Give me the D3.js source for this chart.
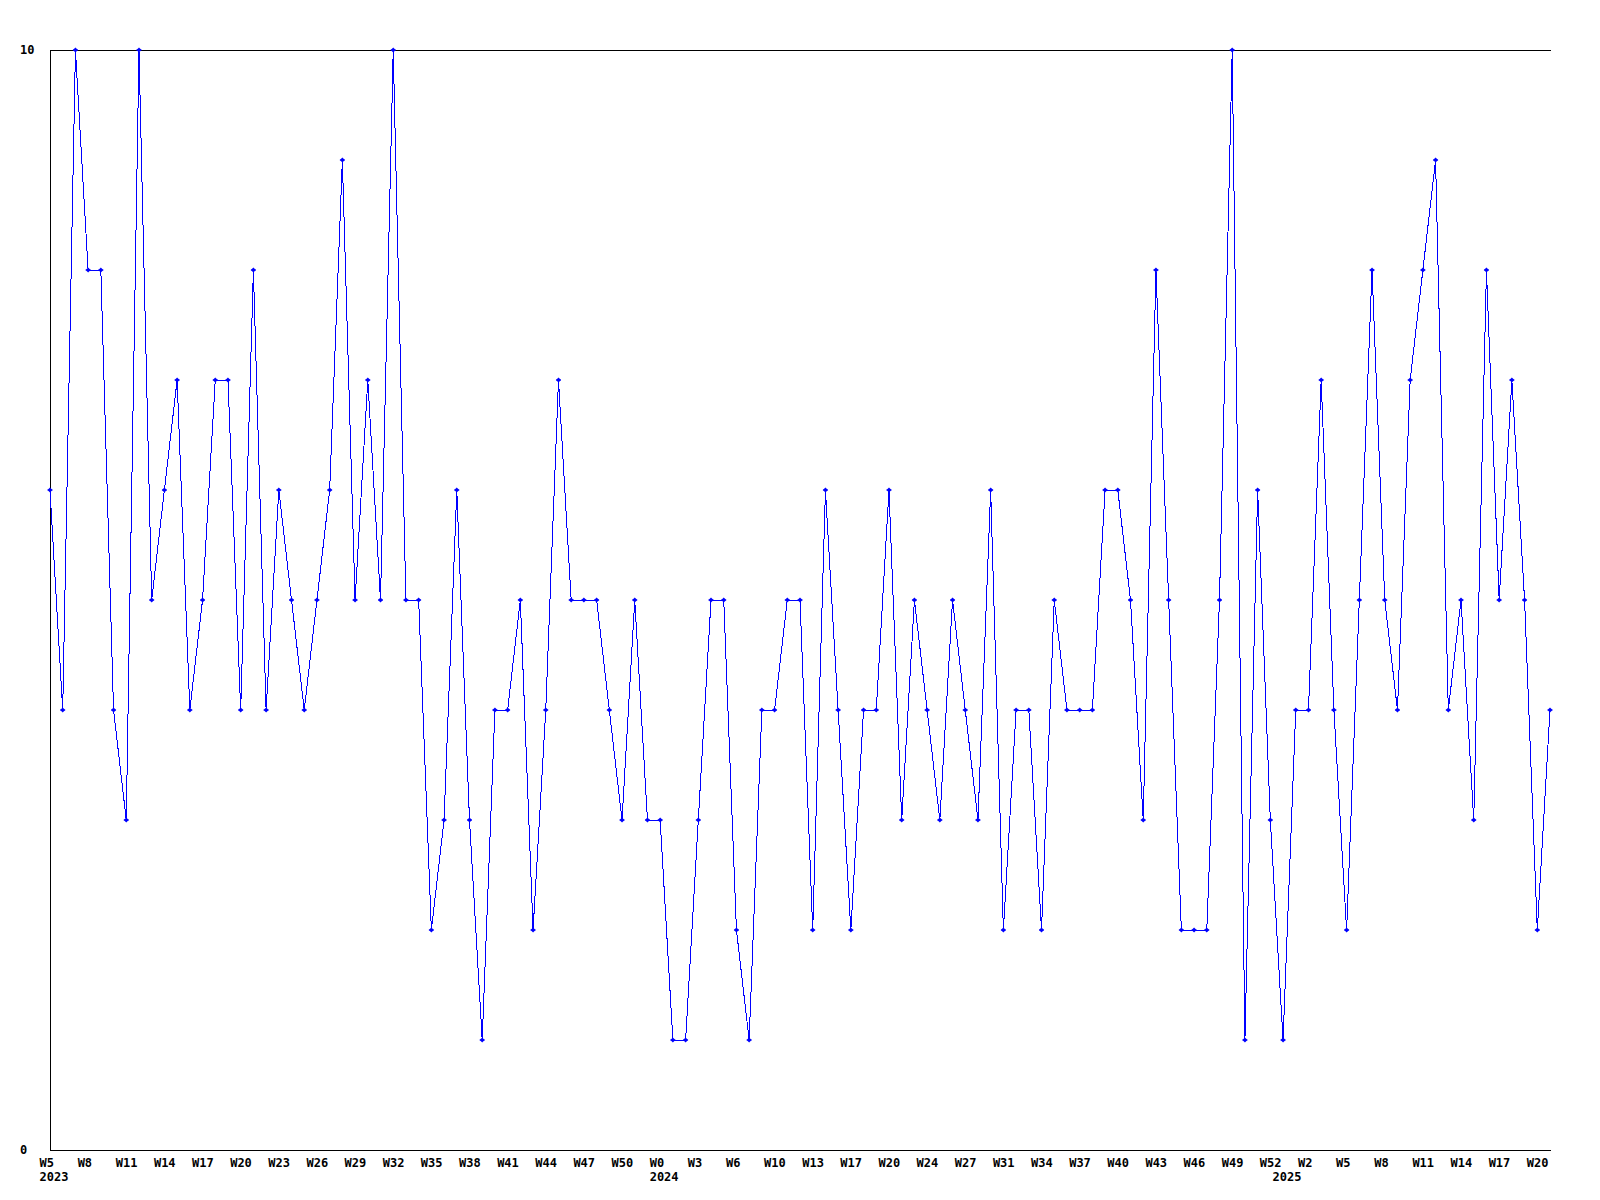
<!DOCTYPE html>
<html>
<head>
<meta charset="utf-8">
<script src="https://cdn.jsdelivr.net/npm/d3@7"></script>
<style>
  html, body { margin: 0; padding: 0; background: #fff; }
  svg { display: block; }
  text { font-family: "DejaVu Sans Mono", "Liberation Mono", monospace; font-weight: bold; font-size: 12px; fill: #000; }
</style>
</head>
<body>
<svg id="chart" width="1600" height="1200"></svg>
<script>
// Weekly values, 2023 W5 .. 2025 W21
const values = [
  6, 4, 10, 8, 8, 4, 3, 10, 5, 6,
  7, 4, 5, 7, 7, 4, 8, 4, 6, 5,
  4, 5, 6, 9, 5, 7, 5, 10, 5, 5,
  2, 3, 6, 3, 1, 4, 4, 5, 2, 4,
  7, 5, 5, 5, 4, 3, 5, 3, 3, 1,
  1, 3, 5, 5, 2, 1, 4, 4, 5, 5,
  2, 6, 4, 2, 4, 4, 6, 3, 5, 4,
  3, 5, 4, 3, 6, 2, 4, 4, 2, 5,
  4, 4, 4, 6, 6, 5, 3, 8, 5, 2,
  2, 2, 5, 10, 1, 6, 3, 1, 4, 4,
  7, 4, 2, 5, 8, 5, 4, 7, 8, 9,
  4, 5, 3, 8, 5, 7, 5, 2, 4
];

// Tick labels, one every 3 weeks starting at the first point
const tickLabels = [
  "W5", "W8", "W11", "W14", "W17", "W20", "W23", "W26", "W29", "W32",
  "W35", "W38", "W41", "W44", "W47", "W50", "W0", "W3", "W6", "W10",
  "W13", "W17", "W20", "W24", "W27", "W31", "W34", "W37", "W40", "W43",
  "W46", "W49", "W52", "W2", "W5", "W8", "W11", "W14", "W17", "W20"
];
const tickStep = 3;

// Year labels and the point index where each year starts
const yearNames = ["2023", "2024", "2025"];
const yearStartIndex = [0, 48, 97];

// Y axis labels
const yTickValues = [0, 10];

(function () {
  const svg = d3.select("#chart");
  const mLeft = 50, mRight = 1550, mTop = 50, mBottom = 1150;

  const x = d3.scaleLinear().domain([0, values.length - 1]).range([mLeft, mRight]);
  const y = d3.scaleLinear().domain([0, 10]).range([mBottom, mTop]);

  // Frame: top line, left axis, bottom axis
  svg.append("line").attr("x1", mLeft).attr("x2", mRight + 1).attr("y1", mTop + 0.5).attr("y2", mTop + 0.5)
    .attr("stroke", "#000").attr("stroke-width", 1).attr("shape-rendering", "crispEdges");
  svg.append("line").attr("x1", mLeft + 0.5).attr("x2", mLeft + 0.5).attr("y1", mTop).attr("y2", mBottom + 1)
    .attr("stroke", "#000").attr("stroke-width", 1).attr("shape-rendering", "crispEdges");
  svg.append("line").attr("x1", mLeft).attr("x2", mRight + 1).attr("y1", mBottom + 0.5).attr("y2", mBottom + 0.5)
    .attr("stroke", "#000").attr("stroke-width", 1).attr("shape-rendering", "crispEdges");

  // Y labels
  svg.selectAll("text.ylab").data(yTickValues).join("text")
    .attr("class", "ylab")
    .attr("x", 20)
    .attr("y", d => y(d) + 4)
    .text(d => d);

  // X tick labels
  svg.selectAll("text.xlab").data(tickLabels).join("text")
    .attr("class", "xlab")
    .attr("x", (d, i) => x(i * tickStep) - 10.5)
    .attr("y", 1167)
    .text(d => d);

  // Year labels
  svg.selectAll("text.year").data(yearNames).join("text")
    .attr("class", "year")
    .attr("x", (d, i) => x(yearStartIndex[i]) - 10.5)
    .attr("y", 1181)
    .text(d => d);

  // Line
  const line = d3.line().x((d, i) => x(i)).y(d => y(d));
  svg.append("path").datum(values)
    .attr("d", line)
    .attr("fill", "none")
    .attr("stroke", "#0000ff")
    .attr("stroke-width", 1)
    .attr("shape-rendering", "crispEdges");

  // Markers
  const mk = svg.append("g");
  mk.selectAll("path").data(values).join("path")
    .attr("transform", (d, i) => `translate(${x(i)},${y(d)})`)
    .attr("d", "M-2.5,0L0,-2.5L2.5,0L0,2.5Z")
    .attr("fill", "#0000ff")
    .attr("stroke", "none");
  mk.selectAll("line").data(values).join("line")
    .attr("x1", (d, i) => x(i) - 2.5).attr("x2", (d, i) => x(i) + 2.5)
    .attr("y1", d => y(d)).attr("y2", d => y(d))
    .attr("stroke", "#0000ff").attr("stroke-width", 1);
})();
</script>
</body>
</html>
